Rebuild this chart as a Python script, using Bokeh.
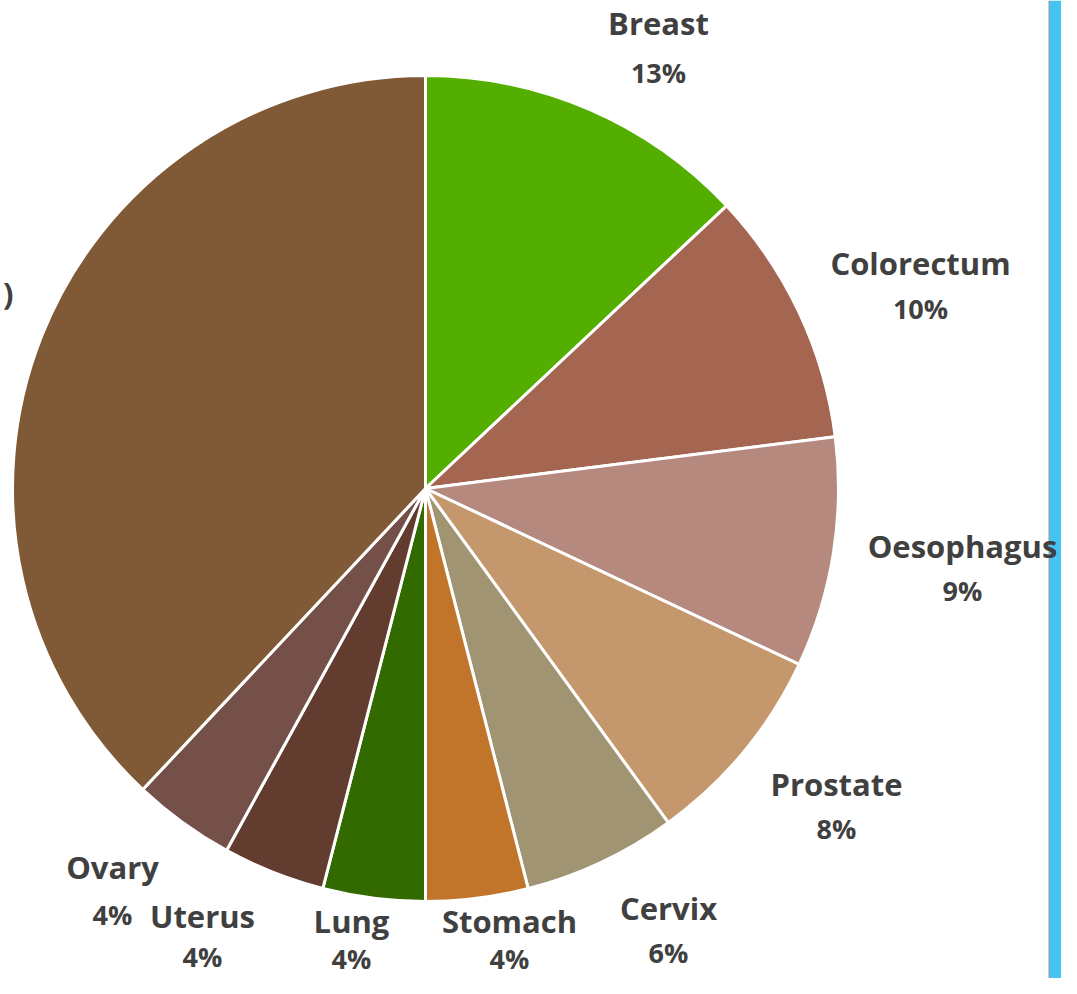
import numpy as np
from bokeh.plotting import figure
from bokeh.models import Range1d, ColumnDataSource
from bokeh.core.properties import value
from bokeh.embed import file_html
from bokeh.resources import INLINE

# ---- data ----
sites = ["Breast", "Colorectum", "Oesophagus", "Prostate", "Cervix",
         "Stomach", "Lung", "Uterus", "Ovary", "Other"]
shares = [13, 10, 9, 8, 6, 4, 4, 4, 4, 38]
colors = ["#54AE00", "#A46651", "#B5897D", "#C4976C", "#A19472",
          "#C0752A", "#336A00", "#633C30", "#745048", "#805A36"]

# ---- layout (screen pixels of label centres: name line, percent line) ----
label_x = [658, 920, 962, 836, 668, 509, 351, 202, 112]
name_y = [22, 262, 545, 783, 907, 920, 920, 915, 866]
pct_y = [72, 308, 590, 828, 952, 958, 958, 956, 914]

W, H = 1061, 978

def sy(y):
    return H - y

p = figure(width=W, height=H, output_backend="svg", toolbar_location=None,
           x_range=Range1d(0, W), y_range=Range1d(0, H),
           min_border=0, outline_line_color=None)
p.axis.visible = False
p.grid.visible = False
p.background_fill_color = "white"

# right blue band
p.quad(left=1048.5, right=W, bottom=0, top=H, fill_color="#45C4F2",
       line_color=None)
p.segment(x0=1048.5, y0=0, x1=1048.5, y1=H, line_color="#9A9A9A", line_width=1)

# pie
cx, cy, R = 425, sy(488), 413
frac = np.array(shares, dtype=float) / sum(shares)
cum = np.concatenate([[0], np.cumsum(frac)])
start = np.pi / 2 - cum[1:] * 2 * np.pi
end = np.pi / 2 - cum[:-1] * 2 * np.pi
src = ColumnDataSource(dict(start=start, end=end, color=colors))
p.wedge(x=cx, y=cy, radius=R, radius_units="screen",
        start_angle="start", end_angle="end", fill_color="color",
        line_color="white", line_width=3, source=src)

# labels
font = value("Open Sans")
names = sites[:9]
pcts = [f"{v}%" for v in shares[:9]]
p.text(x=label_x, y=[sy(y) for y in name_y], text=names,
       text_font=font, text_font_style="bold", text_font_size="31px",
       text_color="#404040", text_align="center", text_baseline="middle")
p.text(x=label_x, y=[sy(y) for y in pct_y], text=pcts,
       text_font=font, text_font_style="bold", text_font_size="27px",
       text_color="#404040", text_align="center", text_baseline="middle")

# visible tail of the cut-off label of the largest slice
p.text(x=[13], y=[sy(292)], text=[")"], text_font=font, text_font_style="bold",
       text_font_size="31px", text_color="#404040", text_align="right",
       text_baseline="middle")

open("out.html", "w").write(file_html(p, INLINE))
